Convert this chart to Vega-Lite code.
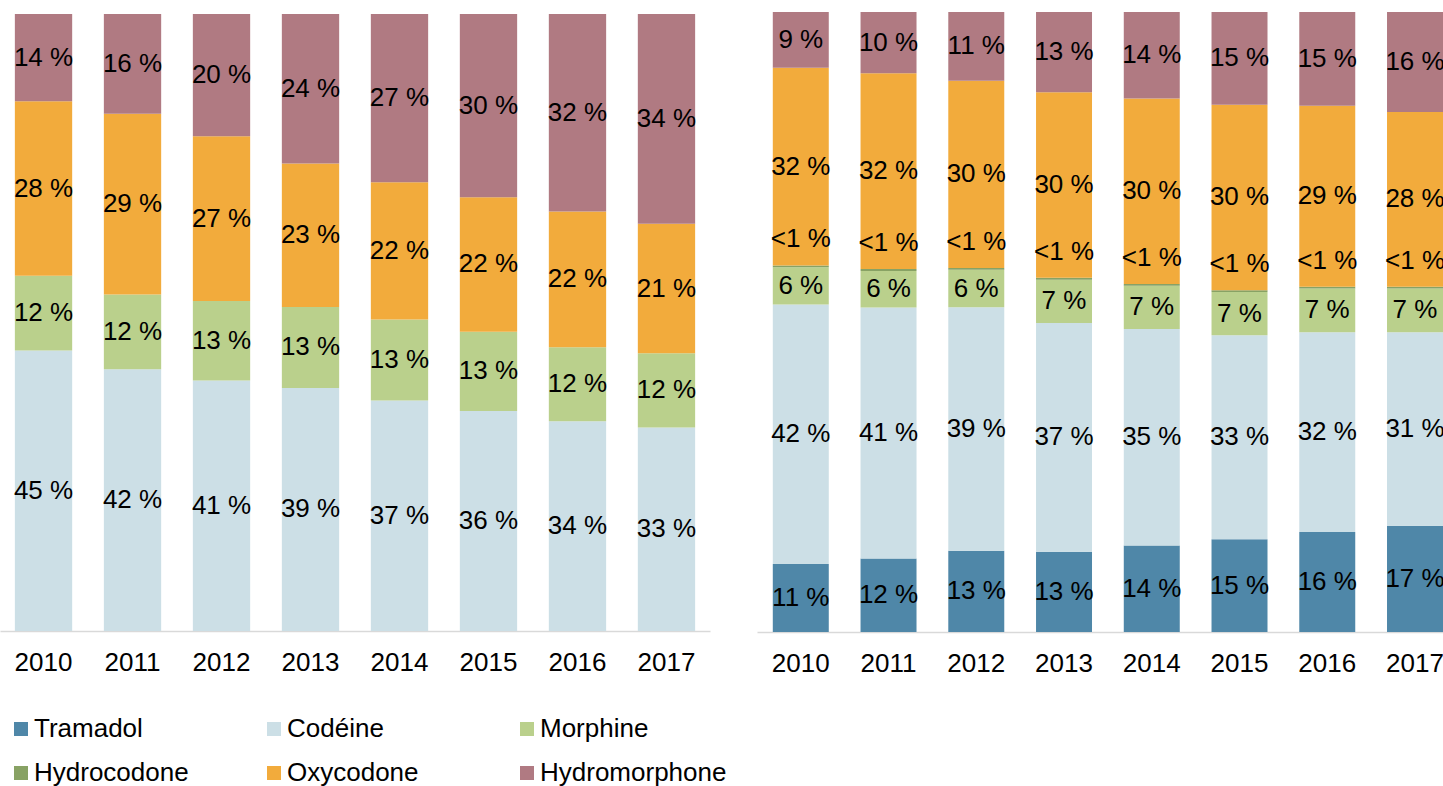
{
  "$schema": "https://vega.github.io/schema/vega-lite/v6.json",
  "padding": {"left": 0, "top": 12, "right": 0, "bottom": 0},
  "spacing": 47,
  "background": "white",
  "config": {
    "view": {"stroke": null},
    "font": "Liberation Sans",
    "axisX": {
      "domainColor": "#d9d9d9",
      "domainWidth": 1.5,
      "ticks": false,
      "labelFontSize": 26,
      "labelColor": "#000000",
      "labelFont": "Liberation Sans",
      "labelPadding": 18,
      "labelAngle": 0,
      "title": null
    },
    "legend": {
      "orient": "none",
      "direction": "horizontal",
      "legendX": 8,
      "legendY": 704,
      "columns": 3,
      "gridAlign": "all",
      "padding": 0,
      "symbolType": "square",
      "symbolSize": 196,
      "symbolStrokeWidth": 0,
      "labelFontSize": 26,
      "labelFont": "Liberation Sans",
      "labelColor": "#000000",
      "labelOffset": 0,
      "labelLimit": 400,
      "columnPadding": 40,
      "rowPadding": 18,
      "title": null
    }
  },
  "datasets": {
    "left": [
      {"year": "2010", "drug": "Codéine", "pct": 45}, {"year": "2010", "drug": "Morphine", "pct": 12}, {"year": "2010", "drug": "Oxycodone", "pct": 28}, {"year": "2010", "drug": "Hydromorphone", "pct": 14},
      {"year": "2011", "drug": "Codéine", "pct": 42}, {"year": "2011", "drug": "Morphine", "pct": 12}, {"year": "2011", "drug": "Oxycodone", "pct": 29}, {"year": "2011", "drug": "Hydromorphone", "pct": 16},
      {"year": "2012", "drug": "Codéine", "pct": 41}, {"year": "2012", "drug": "Morphine", "pct": 13}, {"year": "2012", "drug": "Oxycodone", "pct": 27}, {"year": "2012", "drug": "Hydromorphone", "pct": 20},
      {"year": "2013", "drug": "Codéine", "pct": 39}, {"year": "2013", "drug": "Morphine", "pct": 13}, {"year": "2013", "drug": "Oxycodone", "pct": 23}, {"year": "2013", "drug": "Hydromorphone", "pct": 24},
      {"year": "2014", "drug": "Codéine", "pct": 37}, {"year": "2014", "drug": "Morphine", "pct": 13}, {"year": "2014", "drug": "Oxycodone", "pct": 22}, {"year": "2014", "drug": "Hydromorphone", "pct": 27},
      {"year": "2015", "drug": "Codéine", "pct": 36}, {"year": "2015", "drug": "Morphine", "pct": 13}, {"year": "2015", "drug": "Oxycodone", "pct": 22}, {"year": "2015", "drug": "Hydromorphone", "pct": 30},
      {"year": "2016", "drug": "Codéine", "pct": 34}, {"year": "2016", "drug": "Morphine", "pct": 12}, {"year": "2016", "drug": "Oxycodone", "pct": 22}, {"year": "2016", "drug": "Hydromorphone", "pct": 32},
      {"year": "2017", "drug": "Codéine", "pct": 33}, {"year": "2017", "drug": "Morphine", "pct": 12}, {"year": "2017", "drug": "Oxycodone", "pct": 21}, {"year": "2017", "drug": "Hydromorphone", "pct": 34}
    ],
    "right": [
      {"year": "2010", "drug": "Tramadol", "pct": 11}, {"year": "2010", "drug": "Codéine", "pct": 42}, {"year": "2010", "drug": "Morphine", "pct": 6}, {"year": "2010", "drug": "Hydrocodone", "pct": 0.3}, {"year": "2010", "drug": "Oxycodone", "pct": 32}, {"year": "2010", "drug": "Hydromorphone", "pct": 9},
      {"year": "2011", "drug": "Tramadol", "pct": 12}, {"year": "2011", "drug": "Codéine", "pct": 41}, {"year": "2011", "drug": "Morphine", "pct": 6}, {"year": "2011", "drug": "Hydrocodone", "pct": 0.3}, {"year": "2011", "drug": "Oxycodone", "pct": 32}, {"year": "2011", "drug": "Hydromorphone", "pct": 10},
      {"year": "2012", "drug": "Tramadol", "pct": 13}, {"year": "2012", "drug": "Codéine", "pct": 39}, {"year": "2012", "drug": "Morphine", "pct": 6}, {"year": "2012", "drug": "Hydrocodone", "pct": 0.3}, {"year": "2012", "drug": "Oxycodone", "pct": 30}, {"year": "2012", "drug": "Hydromorphone", "pct": 11},
      {"year": "2013", "drug": "Tramadol", "pct": 13}, {"year": "2013", "drug": "Codéine", "pct": 37}, {"year": "2013", "drug": "Morphine", "pct": 7}, {"year": "2013", "drug": "Hydrocodone", "pct": 0.3}, {"year": "2013", "drug": "Oxycodone", "pct": 30}, {"year": "2013", "drug": "Hydromorphone", "pct": 13},
      {"year": "2014", "drug": "Tramadol", "pct": 14}, {"year": "2014", "drug": "Codéine", "pct": 35}, {"year": "2014", "drug": "Morphine", "pct": 7}, {"year": "2014", "drug": "Hydrocodone", "pct": 0.3}, {"year": "2014", "drug": "Oxycodone", "pct": 30}, {"year": "2014", "drug": "Hydromorphone", "pct": 14},
      {"year": "2015", "drug": "Tramadol", "pct": 15}, {"year": "2015", "drug": "Codéine", "pct": 33}, {"year": "2015", "drug": "Morphine", "pct": 7}, {"year": "2015", "drug": "Hydrocodone", "pct": 0.3}, {"year": "2015", "drug": "Oxycodone", "pct": 30}, {"year": "2015", "drug": "Hydromorphone", "pct": 15},
      {"year": "2016", "drug": "Tramadol", "pct": 16}, {"year": "2016", "drug": "Codéine", "pct": 32}, {"year": "2016", "drug": "Morphine", "pct": 7}, {"year": "2016", "drug": "Hydrocodone", "pct": 0.3}, {"year": "2016", "drug": "Oxycodone", "pct": 29}, {"year": "2016", "drug": "Hydromorphone", "pct": 15},
      {"year": "2017", "drug": "Tramadol", "pct": 17}, {"year": "2017", "drug": "Codéine", "pct": 31}, {"year": "2017", "drug": "Morphine", "pct": 7}, {"year": "2017", "drug": "Hydrocodone", "pct": 0.3}, {"year": "2017", "drug": "Oxycodone", "pct": 28}, {"year": "2017", "drug": "Hydromorphone", "pct": 16}
    ]
  },
  "hconcat": [
    {
      "width": 710,
      "height": 619,
      "data": {"name": "left"},
      "transform": [
        {"calculate": "indexof(['Tramadol','Codéine','Morphine','Hydrocodone','Oxycodone','Hydromorphone'], datum.drug)", "as": "rank"},
        {"stack": "pct", "groupby": ["year"], "sort": [{"field": "rank", "order": "ascending"}], "offset": "normalize", "as": ["y0", "y1"]},
        {"calculate": "(datum.y0 + datum.y1) / 2", "as": "ymid"},
        {"calculate": "datum.pct < 1 ? '<1 %' : format(datum.pct, 'd') + ' %'", "as": "label"}
      ],
      "encoding": {
        "x": {"field": "year", "type": "ordinal", "scale": {"paddingInner": 0.356, "paddingOuter": 0.167}, "axis": {}}
      },
      "layer": [
        {
          "mark": {"type": "bar"},
          "encoding": {
            "y": {"field": "y1", "type": "quantitative", "scale": {"domain": [0, 1.00324], "nice": false}, "axis": null},
            "y2": {"field": "y0"},
            "color": {
              "field": "drug", "type": "nominal",
              "scale": {
                "domain": ["Tramadol", "Codéine", "Morphine", "Hydrocodone", "Oxycodone", "Hydromorphone"],
                "range": ["#4f87a8", "#ccdfe6", "#bad08c", "#88a264", "#f2ab3c", "#b07a82"]
              }
            }
          }
        },
        {
          "mark": {"type": "text", "fontSize": 26, "color": "#000000", "font": "Liberation Sans"},
          "encoding": {
            "y": {"field": "ymid", "type": "quantitative"},
            "text": {"field": "label"}
          }
        }
      ]
    },
    {
      "width": 686,
      "height": 620,
      "data": {"name": "right"},
      "transform": [
        {"calculate": "indexof(['Tramadol','Codéine','Morphine','Hydrocodone','Oxycodone','Hydromorphone'], datum.drug)", "as": "rank"},
        {"stack": "pct", "groupby": ["year"], "sort": [{"field": "rank", "order": "ascending"}], "offset": "normalize", "as": ["y0", "y1"]},
        {"calculate": "(datum.y0 + datum.y1) / 2", "as": "ymid"},
        {"calculate": "datum.pct < 1 ? '<1 %' : format(datum.pct, 'd') + ' %'", "as": "label"}
      ],
      "encoding": {
        "x": {"field": "year", "type": "ordinal", "scale": {"paddingInner": 0.362, "paddingOuter": 0.09, "align": 1}, "axis": {}}
      },
      "layer": [
        {
          "mark": {"type": "bar"},
          "encoding": {
            "y": {"field": "y1", "type": "quantitative", "scale": {"domain": [0, 1], "nice": false}, "axis": null},
            "y2": {"field": "y0"},
            "color": {"field": "drug", "type": "nominal"}
          }
        },
        {
          "transform": [{"filter": "datum.drug !== 'Hydrocodone'"}],
          "mark": {"type": "text", "fontSize": 26, "color": "#000000", "font": "Liberation Sans"},
          "encoding": {
            "y": {"field": "ymid", "type": "quantitative"},
            "text": {"field": "label"}
          }
        },
        {
          "transform": [{"filter": "datum.drug === 'Hydrocodone'"}],
          "mark": {"type": "text", "fontSize": 26, "color": "#000000", "font": "Liberation Sans", "dy": -27},
          "encoding": {
            "y": {"field": "ymid", "type": "quantitative"},
            "text": {"field": "label"}
          }
        }
      ]
    }
  ],
  "resolve": {"scale": {"y": "independent"}}
}
